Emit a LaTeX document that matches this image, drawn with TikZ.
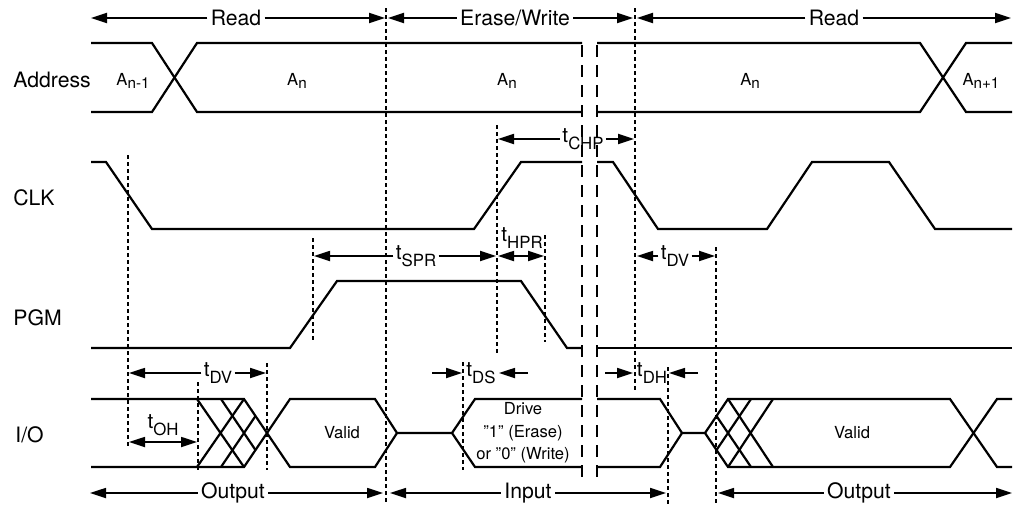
\documentclass[tikz,border=0pt]{standalone}
\usepackage{fontspec}
\setmainfont{TeX Gyre Heros}
\usetikzlibrary{arrows.meta}

\newcommand{\tsub}[1]{t\raisebox{-3.5pt}{\fontsize{8.4}{9}\selectfont #1}}
\newcommand{\asub}[1]{A\raisebox{-1.5pt}{\fontsize{7.6}{9}\selectfont #1}}
\newcommand{\dq}{\symbol{34}}

\tikzset{
  sig/.style={line width=1.1pt, line join=miter},
  guide/.style={line width=0.9pt, dash pattern=on 2pt off 1.5pt},
  brk/.style={line width=1.1pt, dash pattern=on 6pt off 4pt},
  dim/.style={-{Triangle[length=8pt,width=5pt]}, line width=0.9pt},
  dimboth/.style={{Triangle[length=8pt,width=5pt]}-{Triangle[length=8pt,width=5pt]}, line width=0.9pt},
  lbl/.style={font=\fontsize{10.6}{12}\selectfont, inner sep=1.5pt},
  tlbl/.style={font=\fontsize{10.4}{12}\selectfont, inner sep=1pt},
  val/.style={font=\fontsize{8.3}{11.2}\selectfont, inner sep=0pt, align=center},
}

\begin{document}
\begin{tikzpicture}[x=0.5pt,y=-0.5pt]
    \useasboundingbox (0,0) rectangle (1021,505);

    % Signal names
    \node[lbl, anchor=west] (address) at (10,80) {Address};
    \node[lbl, anchor=west] (clk) at (10,198) {CLK};
    \node[lbl, anchor=west] (pgm) at (10,318) {PGM};
    \node[lbl, anchor=west] (io) at (12,435) {I/O};

    % Phase arrows (top and bottom)
    \node[lbl] (read1) at (236,18) {Read};
    \node[lbl] (erase) at (515,18) {Erase/Write};
    \node[lbl] (read2) at (834,18) {Read};
    \node[lbl] (output1) at (233,493) {Output};
    \node[lbl] (input) at (528,493) {Input};
    \node[lbl] (output2) at (859,493) {Output};
    \coordinate (r1l) at (91,18);   \coordinate (r1r) at (385,18);
    \coordinate (ewl) at (388,18);  \coordinate (ewr) at (633,18);
    \coordinate (r2l) at (637,18);  \coordinate (r2r) at (1011,18);
    \coordinate (o1l) at (90,493);  \coordinate (o1r) at (383,493);
    \coordinate (inl) at (390,493); \coordinate (inr) at (666,493);
    \coordinate (o2l) at (718,493); \coordinate (o2r) at (1012,493);
    \foreach \n/\a/\b in {read1/r1l/r1r, erase/ewl/ewr, read2/r2l/r2r,
                          output1/o1l/o1r, input/inl/inr, output2/o2l/o2r}
    {
        \draw[dim] (\n) -- (\a);
        \draw[dim] (\n) -- (\b);
    }

    % Dotted timing marks
    \foreach \x/\ya/\yb in {128/155/448, 313/238/342, 386/8/505, 497/125/353,
                            545/235/342, 635/8/390, 716/247/505, 198/382/470,
                            267/363/470, 463/362/470, 668/367/505}
        \draw[guide] (\x,\ya) -- (\x,\yb);

    % Time break
    \draw[brk] (582,45) -- (582,482);
    \draw[brk] (597,45) -- (597,482);

    % Address
    \draw[sig] (91,43) -- (152,43) -- (197,112) -- (582,112);
    \draw[sig] (91,112) -- (152,112) -- (197,43) -- (582,43);
    \draw[sig] (597,43) -- (920,43) -- (966,112) -- (1012,112);
    \draw[sig] (597,112) -- (920,112) -- (966,43) -- (1012,43);
    \node[val] (an1) at (133,81) {\asub{n-1}};
    \node[val] (an2) at (297,81) {\asub{n}};
    \node[val] (an3) at (507,81) {\asub{n}};
    \node[val] (an4) at (750,81) {\asub{n}};
    \node[val] (an5) at (981,81) {\asub{n+1}};

    % CLK
    \draw[sig] (91,162) -- (106,162) -- (152,229) -- (474,229) -- (521,162) -- (582,162);
    \draw[sig] (597,162) -- (613,162) -- (658,229) -- (767,229) -- (812,162)
        -- (889,162) -- (935,229) -- (1012,229);

    % PGM
    \draw[sig] (91,348) -- (290,348) -- (337,281) -- (521,281) -- (567,348) -- (582,348);
    \draw[sig] (597,348) -- (1012,348);

    % I/O
    \draw[sig] (91,399) -- (244,399) -- (290,467) -- (375,467) -- (397,433)
        -- (452,433) -- (475,399) -- (582,399);
    \draw[sig] (91,467) -- (244,467) -- (290,399) -- (375,399) -- (397,433);
    \draw[sig] (452,433) -- (475,467) -- (582,467);
    \draw[sig] (197,399) -- (244,467) (197,467) -- (244,399);
    \begin{scope}
        \clip (197,399) -- (244,399) -- (267,433) -- (244,467) -- (197,467) -- cycle;
        \draw[sig] (221,399) -- (267,467) (221,467) -- (267,399);
    \end{scope}
    \draw[sig] (597,399) -- (660,399) -- (682,433) -- (705,433) -- (728,399)
        -- (950,399) -- (997,467) -- (1012,467);
    \draw[sig] (597,467) -- (660,467) -- (682,433);
    \draw[sig] (705,433) -- (728,467) -- (950,467) -- (997,399) -- (1012,399);
    \draw[sig] (728,399) -- (773,467) (728,467) -- (773,399);
    \begin{scope}
        \clip (705,433) -- (728,399) -- (773,399) -- (773,467) -- (728,467) -- cycle;
        \draw[sig] (705,399) -- (751,467) (705,467) -- (751,399);
    \end{scope}
    \node[val] (valid1) at (342,433) {Valid};
    \node[val] (drive) at (523,433) {Drive\\\dq1\dq{} (Erase)\\or \dq0\dq{} (Write)};
    \node[val] (valid2) at (852,433) {Valid};

    % Timing parameters
    \node[tlbl] (tchp) at (583,139) {\tsub{CHP}};
    \coordinate (chpl) at (498,139); \coordinate (chpr) at (634,139);
    \draw[dim] (tchp) -- (chpl);
    \draw[dim] (tchp) -- (chpr);

    \node[tlbl] (tspr) at (416,256) {\tsub{SPR}};
    \coordinate (sprl) at (314,256); \coordinate (sprr) at (496,256);
    \draw[dim] (tspr) -- (sprl);
    \draw[dim] (tspr) -- (sprr);

    \node[tlbl] (thpr) at (522,238) {\tsub{HPR}};
    \coordinate (hprl) at (498,256); \coordinate (hprr) at (544,256);
    \draw[dimboth] (hprl) -- (hprr);

    \node[tlbl] (tdvb) at (675,256) {\tsub{DV}};
    \coordinate (dvbl) at (637,256); \coordinate (dvbr) at (715,256);
    \draw[dim] (tdvb) -- (dvbl);
    \draw[dim] (tdvb) -- (dvbr);

    \node[tlbl] (tdva) at (218,373) {\tsub{DV}};
    \coordinate (dval) at (129,373); \coordinate (dvar) at (266,373);
    \draw[dim] (tdva) -- (dval);
    \draw[dim] (tdva) -- (dvar);

    \node[tlbl] (toh) at (163,425) {\tsub{OH}};
    \coordinate (ohl) at (129,442); \coordinate (ohr) at (197,442);
    \draw[dimboth] (ohl) -- (ohr);

    \node[tlbl] (tds) at (481,373) {\tsub{DS}};
    \coordinate (dsa) at (432,373); \coordinate (dsb) at (462,373);
    \coordinate (dsc) at (528,373); \coordinate (dsd) at (499,373);
    \draw[dim] (dsa) -- (dsb);
    \draw[dim] (dsc) -- (dsd);

    \node[tlbl] (tdh) at (652,373) {\tsub{DH}};
    \coordinate (dha) at (605,373); \coordinate (dhb) at (633,373);
    \coordinate (dhc) at (698,373); \coordinate (dhd) at (669,373);
    \draw[dim] (dha) -- (dhb);
    \draw[dim] (dhc) -- (dhd);
\end{tikzpicture}
\end{document}
